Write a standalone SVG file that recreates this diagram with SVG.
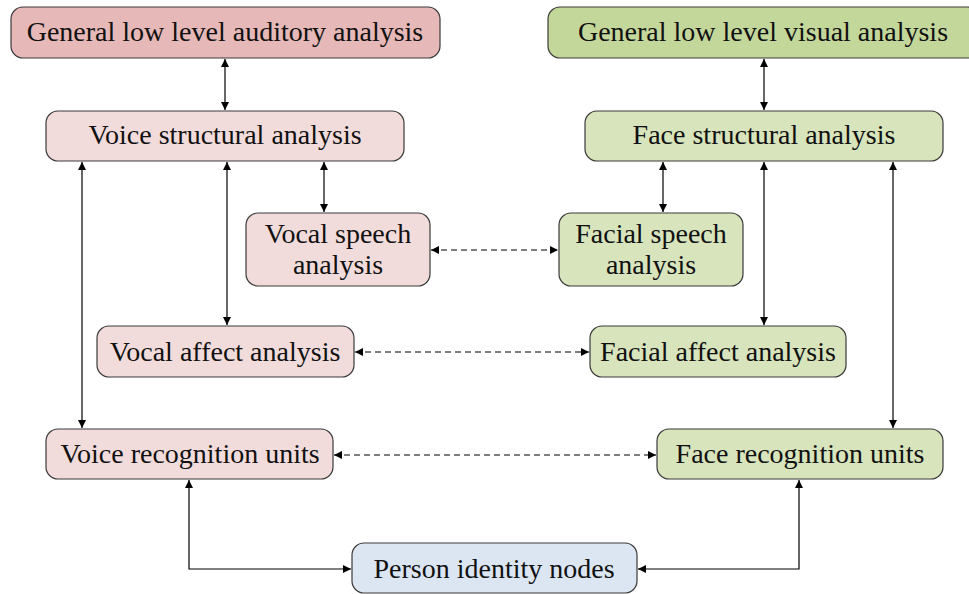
<svg xmlns="http://www.w3.org/2000/svg" width="969" height="594" viewBox="0 0 969 594">
<defs>
<marker id="ah" viewBox="0 0 10 10" refX="10" refY="5" markerWidth="8" markerHeight="8" markerUnits="userSpaceOnUse" orient="auto-start-reverse">
<path d="M0,0 L10,5 L0,10 z" fill="#000"/>
</marker>
<style>
.box{stroke:#3a3a3a;stroke-width:1.2}
.aud{fill:#e6b8b7}
.vis{fill:#c4d79b}
.voi{fill:#f2dcdb}
.fac{fill:#d7e4bc}
.per{fill:#dce6f2}
text{font-family:"Liberation Serif","DejaVu Serif",serif;font-size:28px;fill:#111;text-anchor:middle}
.ln{stroke:#000;stroke-width:1.2;fill:none;marker-start:url(#ah);marker-end:url(#ah)}
.ds{stroke-dasharray:6,4}
</style>
</defs>
<rect width="969" height="594" fill="#fff"/>
<g id="connectors">
<line class="ln" x1="225" y1="59" x2="225" y2="110"/>
<line class="ln" x1="764" y1="59" x2="764" y2="110"/>
<line class="ln" x1="82" y1="162" x2="82" y2="428"/>
<line class="ln" x1="227" y1="162" x2="227" y2="325"/>
<line class="ln" x1="324" y1="162" x2="324" y2="212"/>
<line class="ln" x1="663" y1="162" x2="663" y2="212"/>
<line class="ln" x1="764" y1="162" x2="764" y2="325"/>
<line class="ln" x1="893" y1="162" x2="893" y2="428"/>
<line class="ln ds" x1="431" y1="250" x2="558" y2="250"/>
<line class="ln ds" x1="355" y1="352" x2="589" y2="352"/>
<line class="ln ds" x1="334" y1="455" x2="656" y2="455"/>
<path class="ln" d="M189,480 L189,569 L351,569"/>
<path class="ln" d="M799,480 L799,569 L638,569"/>
</g>
<g id="n-aud"><rect class="box aud" x="11" y="7" width="429" height="51" rx="12"/><text x="225" y="41">General low level auditory analysis</text></g>
<g id="n-vis"><rect class="box vis" x="548" y="7" width="432" height="51" rx="12"/><text x="763" y="41">General low level visual analysis</text></g>
<g id="n-vsa"><rect class="box voi" x="46" y="111" width="358" height="50" rx="12"/><text x="225" y="144">Voice structural analysis</text></g>
<g id="n-fsa"><rect class="box fac" x="585" y="111" width="358" height="50" rx="12"/><text x="764" y="144">Face structural analysis</text></g>
<g id="n-vsp"><rect class="box voi" x="246" y="213" width="184" height="73" rx="12"/><text x="338" y="243">Vocal speech</text><text x="338" y="274">analysis</text></g>
<g id="n-fsp"><rect class="box fac" x="559" y="213" width="184" height="73" rx="12"/><text x="651" y="243">Facial speech</text><text x="651" y="274">analysis</text></g>
<g id="n-vaa"><rect class="box voi" x="97" y="326" width="257" height="51" rx="12"/><text x="225" y="361">Vocal affect analysis</text></g>
<g id="n-faa"><rect class="box fac" x="590" y="326" width="256" height="51" rx="12"/><text x="718" y="361">Facial affect analysis</text></g>
<g id="n-vru"><rect class="box voi" x="46" y="429" width="287" height="50" rx="12"/><text x="190" y="463">Voice recognition units</text></g>
<g id="n-fru"><rect class="box fac" x="657" y="429" width="286" height="50" rx="12"/><text x="800" y="463">Face recognition units</text></g>
<g id="n-pin"><rect class="box per" x="352" y="543" width="285" height="50" rx="12"/><text x="494" y="578">Person identity nodes</text></g>
</svg>
